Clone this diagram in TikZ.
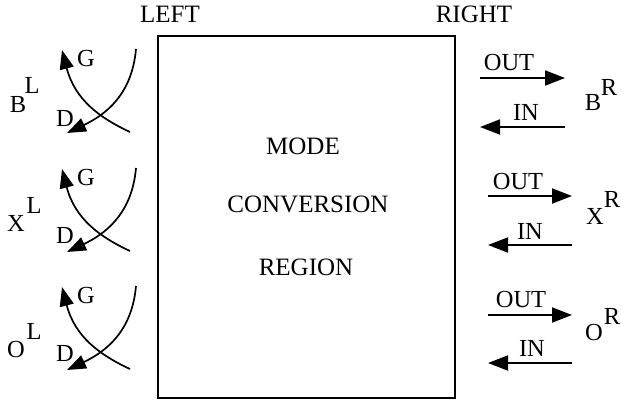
\documentclass[tikz,border=0pt]{standalone}
\usepackage{fontspec}
\setmainfont{Liberation Serif}
\usetikzlibrary{arrows.meta}
\tikzset{
  big/.style={font=\fontsize{25}{30}\selectfont, inner sep=0pt},
  lab/.style={font=\fontsize{24.5}{28}\selectfont, inner sep=0pt},
  arr/.style={line width=1.9pt, -{Triangle[length=20pt,width=15pt]}},
  crv/.style={line width=1.7pt, -{Triangle[length=19pt,width=14pt]}},
  boxst/.style={line width=2pt},
}
\begin{document}
\begin{tikzpicture}[x=1pt,y=-1pt]
\useasboundingbox (0,0) rectangle (621,400);
% box
\draw[boxst] (158,36) rectangle (455,398);
\node[big] (left) at (170,14) {LEFT};
\node[big] (right) at (474,14) {RIGHT};
\node[big] (mode) at (303,146) {MODE};
\node[big] (conv) at (308,204) {CONVERSION};
\node[big] (region) at (306,267) {REGION};
% left groups
\foreach \dy [count=\i] in {0,119,237}{
  \begin{scope}[shift={(0,\dy)}]
    \coordinate (c1s\i) at (136,49);
    \coordinate (c1e\i) at (67,133);
    \coordinate (c2s\i) at (130,132);
    \coordinate (c2e\i) at (62,50);
    \draw[crv] (c1s\i) .. controls (132,95) and (105,115) .. (c1e\i);
    \draw[crv] (c2s\i) .. controls (100,118) and (75,100) .. (c2e\i);
    \node[lab] (g\i) at (86,59) {G};
  \end{scope}
}
\node[lab] (d1) at (65,118) {D};
\node[lab] (d2) at (65,235) {D};
\node[lab] (d3) at (65,353) {D};
\node[lab] (bl) at (18,105) {B};
\node[lab] (bls) at (32,85) {L};
\node[lab] (xl) at (16,223) {X};
\node[lab] (xls) at (34,205) {L};
\node[lab] (ol) at (16,350) {O};
\node[lab] (ols) at (34,331) {L};
% right groups
\coordinate (o1a) at (480,78); \coordinate (o1b) at (565,78);
\coordinate (i1a) at (565,127); \coordinate (i1b) at (480,127);
\coordinate (o2a) at (488,196); \coordinate (o2b) at (572,196);
\coordinate (i2a) at (572,245); \coordinate (i2b) at (488,245);
\coordinate (o3a) at (488,315); \coordinate (o3b) at (572,315);
\coordinate (i3a) at (572,363); \coordinate (i3b) at (488,363);
\draw[arr] (o1a) -- (o1b);
\draw[arr] (i1a) -- (i1b);
\draw[arr] (o2a) -- (o2b);
\draw[arr] (i2a) -- (i2b);
\draw[arr] (o3a) -- (o3b);
\draw[arr] (i3a) -- (i3b);
\node[lab] (out1) at (509,63) {OUT};
\node[lab] (in1) at (526,112) {IN};
\node[lab] (out2) at (518,182) {OUT};
\node[lab] (in2) at (530,231) {IN};
\node[lab] (out3) at (521,300) {OUT};
\node[lab] (in3) at (532,348) {IN};
\node[lab] (br) at (593,103) {B};
\node[lab] (brs) at (609,87) {R};
\node[lab] (xr) at (595,216) {X};
\node[lab] (xrs) at (612,199) {R};
\node[lab] (or) at (594,333) {O};
\node[lab] (ors) at (612,316) {R};
\end{tikzpicture}
\end{document}
